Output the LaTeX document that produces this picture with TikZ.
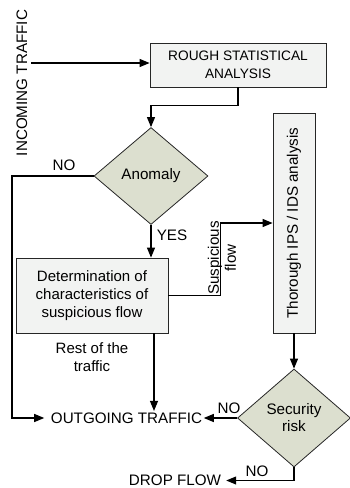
\documentclass[tikz,border=0pt]{standalone}
\usepackage{fontspec}
\setmainfont{Liberation Sans}
\usetikzlibrary{shapes.geometric, arrows.meta}
\definecolor{boxfill}{HTML}{F2F3F2}
\definecolor{sage}{HTML}{DCDFCF}
\tikzset{
box/.style={draw=black!85, fill=boxfill, line width=0.8pt, align=center, inner sep=2pt},
decision/.style={diamond, draw=black!85, fill=sage, line width=0.8pt, align=center, inner sep=0pt},
arr/.style={line width=1.1pt, -{Triangle[length=10pt, width=8pt]}},
lbl/.style={align=center, inner sep=1.5pt}
}

\begin{document}
\begin{tikzpicture}[x=1pt, y=-1pt, font=\fontsize{15.2}{17}\selectfont]
\useasboundingbox (0,0) rectangle (350,488);
  \node[lbl, rotate=90] (incoming) at (22,83) {INCOMING TRAFFIC};
  \coordinate (in) at (31,63);
  \node[box, minimum width=176, minimum height=44, font=\fontsize{13.7}{18}\selectfont] (rough) at (238,65) {ROUGH STATISTICAL\\ANALYSIS};
  \node[decision, minimum width=114, minimum height=97] (anomaly) at (151,176) {Anomaly};
  \node[box, minimum width=152, minimum height=75, font=\fontsize{15}{18}\selectfont] (det) at (92,295.5) {Determination of\\characteristics of\\suspicious flow};
  % rotated box: north is the left side, west the bottom
  \node[box, rotate=90, minimum width=220, minimum height=42] (ips) at (294,223) {Thorough IPS / IDS analysis};
  \node[decision, minimum width=113, minimum height=98] (security) at (294,418) {Security\\risk};
  \node[lbl] (out) at (126.5,418) {OUTGOING TRAFFIC};
  \node[lbl, inner xsep=5pt, inner ysep=0.5pt] (drop) at (175,480.5) {DROP FLOW};
  \coordinate (left) at (12,418);
  \coordinate (rest) at (154,333);

\draw[arr] (in) -- (in -| rough.west);
\draw[arr] (rough.south) -- ++(0,18) -| (anomaly.north);
\draw[arr] (anomaly.south) -- (anomaly.south |- det.north);
\draw[arr] (anomaly.west) -| (left) -- ([xshift=-5pt]out.west);
\draw[arr] (det.east) -- ++(52,0) |- (ips.north);
\draw[arr] (rest) -- (rest |- out.north);
\draw[arr] (ips.west) -- (security.north);
\draw[arr] (security.west) -- (out.east);
\draw[arr] (security.south) |- (drop.east);

  \node[lbl] (noA) at (64,165) {NO};
  \node[lbl] (yes) at (172,235) {YES};
  \node[lbl, rotate=90] (susp) at (222,258) {Suspicious\\flow};
  \node[lbl, font=\fontsize{15}{18}\selectfont] (restlbl) at (92,357) {Rest of the\\traffic};
  \node[lbl] (noB) at (229,408) {NO};
  \node[lbl] (noC) at (257,471) {NO};
\end{tikzpicture}
\end{document}
